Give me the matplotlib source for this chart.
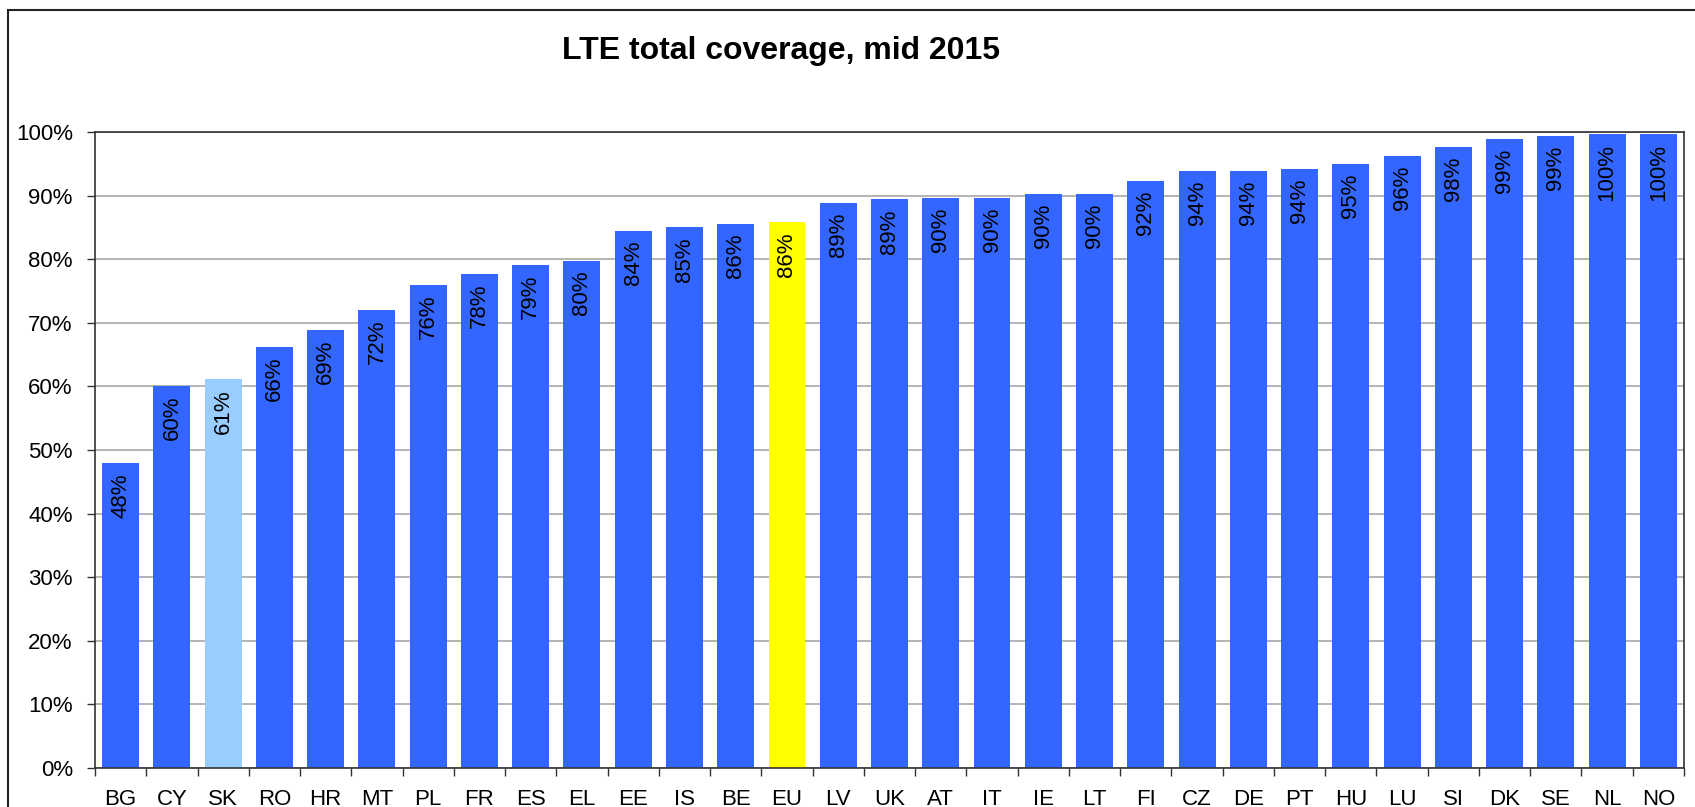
import matplotlib.pyplot as plt
from matplotlib.patches import Rectangle
from matplotlib.ticker import FixedLocator, PercentFormatter

countries = ['BG', 'CY', 'SK', 'RO', 'HR', 'MT', 'PL', 'FR', 'ES', 'EL', 'EE', 'IS', 'BE', 'EU',
             'LV', 'UK', 'AT', 'IT', 'IE', 'LT', 'FI', 'CZ', 'DE', 'PT', 'HU', 'LU', 'SI', 'DK',
             'SE', 'NL', 'NO']
coverage = [47.9, 60.1, 61.1, 66.2, 68.9, 72.0, 75.9, 77.7, 79.1, 79.7, 84.4, 85.0, 85.6, 85.8,
            88.8, 89.4, 89.6, 89.6, 90.3, 90.3, 92.3, 93.9, 93.9, 94.2, 95.0, 96.3, 97.6, 98.9,
            99.3, 99.7, 99.7]
highlight = {'SK': '#99CCFF', 'EU': '#FFFF00'}
base_color = '#3366FF'

plt.rcParams['font.family'] = ['Liberation Sans', 'DejaVu Sans']

fig = plt.figure(figsize=(16.95, 8.07), dpi=100)
ax = fig.add_axes([95 / 1695, 39 / 807, 1589 / 1695, 636 / 807])

colors = [highlight.get(c, base_color) for c in countries]
x = list(range(len(countries)))
ax.bar(x, coverage, width=0.72, color=colors, zorder=2)

# value labels, rotated, just inside the top of each bar
for xi, v in zip(x, coverage):
    ax.annotate(f'{v:.0f}%', (xi, v), xytext=(0, -7), textcoords='offset points',
                rotation=90, ha='center', va='top', fontsize=16, zorder=3)

ax.set_xlim(-0.5, len(countries) - 0.5)
ax.set_ylim(0, 100)
ax.yaxis.set_major_locator(FixedLocator(range(0, 101, 10)))
ax.yaxis.set_major_formatter(PercentFormatter(decimals=0))
ax.grid(axis='y', color='#a8a8a8', linewidth=1.2, zorder=0)
ax.tick_params(axis='y', labelsize=16, length=6, width=1, color='#333333', pad=10)

ax.set_xticks(x)
ax.set_xticklabels(countries, fontsize=16)
ax.set_xticks([i + 0.5 for i in range(-1, len(countries))], minor=True)
ax.tick_params(axis='x', which='major', length=0, pad=15)
ax.tick_params(axis='x', which='minor', length=6, width=1, color='#333333')

for s in ax.spines.values():
    s.set_color('#333333')
    s.set_linewidth(1.2)

fig.text(781 / 1695, 1 - 51 / 807, 'LTE total coverage, mid 2015', ha='center', va='center',
         fontsize=23, fontweight='bold')

# outer chart border (right and bottom edges fall outside the image)
fig.patches.append(Rectangle((8 / 1695, -0.2), 1.5, 1.2 - 10 / 807, transform=fig.transFigure,
                             fill=False, edgecolor='#222222', linewidth=1.5, clip_on=False))

fig.savefig('out.png', dpi=100)
